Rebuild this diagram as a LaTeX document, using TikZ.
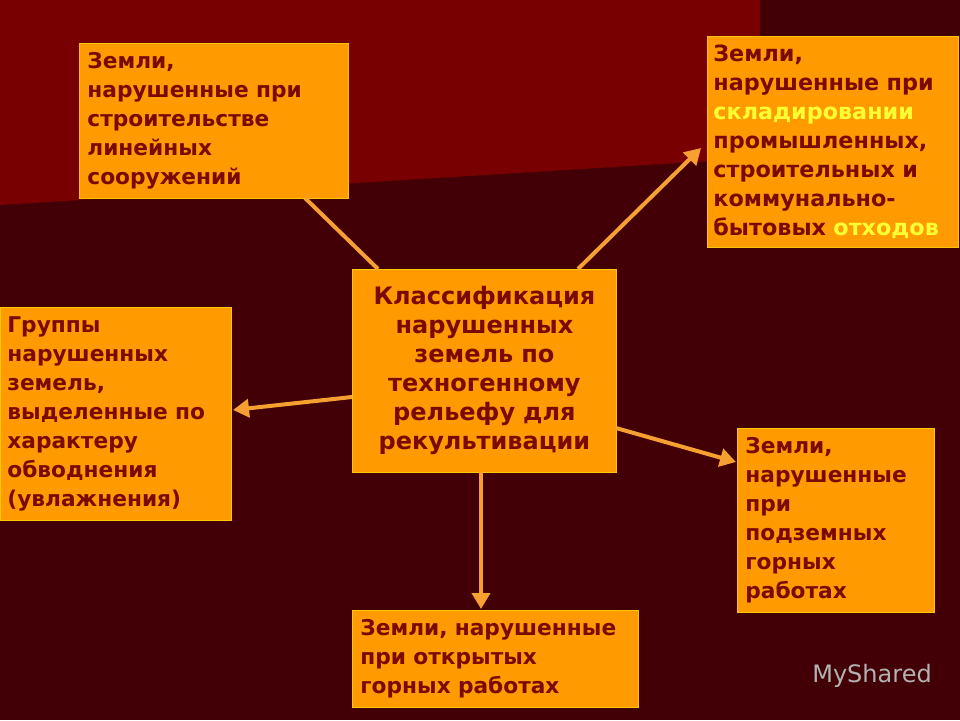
\documentclass[tikz,border=0pt]{standalone}
\usepackage{fontspec}
\setmainfont{DejaVu Sans}
\usetikzlibrary{arrows.meta}
\definecolor{bgdark}{HTML}{420006}
\definecolor{bgred}{HTML}{780000}
\definecolor{boxor}{HTML}{FF9A00}
\definecolor{txt}{HTML}{7A0A00}
\definecolor{arr}{HTML}{F5A030}
\definecolor{yl}{HTML}{FFFF33}
\tikzset{
 box/.style={draw=yellow!60!orange, line width=0.8pt, fill=boxor, anchor=north west, inner xsep=9pt, inner ysep=4pt,
   font=\fontsize{21.7}{29}\selectfont\bfseries, text=txt, align=left},
 big/.style={font=\fontsize{24}{29}\selectfont\bfseries},
 conn/.style={draw=arr, line width=4pt},
 arrow/.style={conn, -{Triangle[length=16pt,width=18pt]}}
}
\begin{document}
\begin{tikzpicture}[x=1pt,y=-1pt]
\fill[bgdark] (0,0) rectangle (960,720);
\fill[bgred] (0,0) -- (760,0) -- (760,158) -- (0,205) -- cycle;
\node[box, minimum width=269pt, minimum height=155pt, text width=253pt, inner xsep=8pt] (b1) at (79,43) {Земли,\\нарушенные при\\строительстве\\линейных\\сооружений};
\node[box, font=\fontsize{22.3}{29}\selectfont\bfseries, minimum width=251pt, minimum height=211pt, text width=239pt, inner xsep=6pt] (b2) at (707,36) {Земли,\\нарушенные при\\\textcolor{yl}{складировании}\\промышленных,\\строительных и\\коммунально-\\бытовых \textcolor{yl}{отходов}};
\node[box, big, minimum width=264pt, minimum height=203pt, text width=250pt, inner xsep=7pt, align=center] (b3) at (352,269) {Классификация\\нарушенных\\земель по\\техногенному\\рельефу для\\рекультивации};
\node[box, minimum width=231pt, minimum height=213pt, text width=217pt, inner xsep=7pt] (b4) at (0,307) {Группы\\нарушенных\\земель,\\выделенные по\\характеру\\обводнения\\(увлажнения)};
\node[box, minimum width=197pt, minimum height=184pt, text width=181pt, inner xsep=8pt] (b5) at (737,428) {Земли,\\нарушенные\\при\\подземных\\горных\\работах};
\node[box, minimum width=286pt, minimum height=97pt, text width=270pt, inner xsep=8pt] (b6) at (352,610) {Земли, нарушенные\\при открытых\\горных работах};
\coordinate (c1) at (378,269);
\coordinate (c2) at (578,269);
\coordinate (c4) at (352,397);
\coordinate (c5) at (616,428);
\coordinate (c6) at (481,472);
\coordinate (t1) at (305,198);
\coordinate (t2) at (701,148);
\coordinate (t4) at (233,410);
\coordinate (t5) at (736,462);
\coordinate (t6) at (481,609);
\draw[conn] (c1) -- (t1);
\draw[arrow] (c2) -- (t2);
\draw[arrow] (c4) -- (t4);
\draw[arrow] (c5) -- (t5);
\draw[arrow] (c6) -- (t6);
\node[text=gray!60, font=\fontsize{24}{28}\selectfont] (wm) at (872,676) {MyShared};
\end{tikzpicture}
\end{document}
